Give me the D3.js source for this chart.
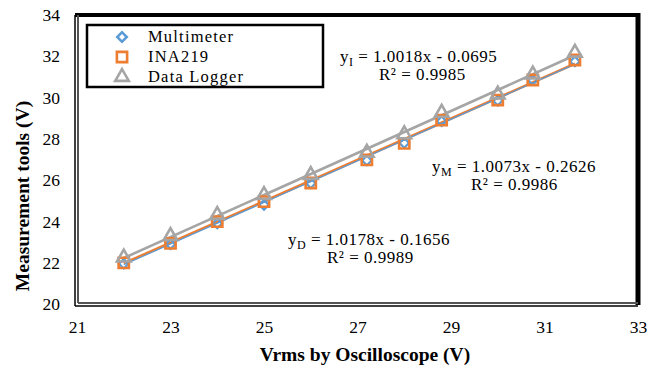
<!DOCTYPE html>
<html>
<head>
<meta charset="utf-8">
<script src="https://cdn.jsdelivr.net/npm/d3@7"></script>
<style>
  body { margin: 0; background: #fff; }
  text { font-family: "Liberation Serif", "Times New Roman", serif; fill: #000; }
</style>
</head>
<body>
<div id="chart"></div>
<script>
// oscilloscope Vrms (x) vs measured values
const vrms = [22, 23, 24, 25, 26, 27.2, 28, 28.8, 30, 30.75, 31.65];
const multimeter = [21.95, 22.9, 23.9, 24.8, 25.85, 26.95, 27.8, 28.85, 29.85, 30.85, 31.75];
const ina219 = [21.99, 22.94, 23.99, 24.96, 25.86, 26.98, 27.78, 28.91, 29.88, 30.85, 31.82];
const dataLogger = [22.3, 23.34, 24.36, 25.33, 26.3, 27.38, 28.27, 29.31, 30.2, 31.17, 32.22];

const seriesNames = ["Multimeter", "INA219", "Data Logger"];
// trendline coefficients as printed on the chart
const slopes = [1.0073, 1.0018, 1.0178];
const intercepts = [-0.2626, -0.0695, -0.1656];

const xTicks = [21, 23, 25, 27, 29, 31, 33];
const yTicks = [20, 22, 24, 26, 28, 30, 32, 34];

////////////////////////////////////////////////////////////////////////////////////

const width = 657, height = 365;
const margin = { left: 77, right: 19, top: 15, bottom: 61 };

const svg = d3.select("#chart").append("svg")
  .attr("width", width)
  .attr("height", height);

const x = d3.scaleLinear().domain([21, 33]).range([margin.left, width - margin.right]);
const y = d3.scaleLinear().domain([20, 34]).range([height - margin.bottom, margin.top]);

const colors = ["#5B9BD5", "#ED7D31", "#A5A5A5"];
const seriesValues = [multimeter, ina219, dataLogger];

// frame: thick top/right, double lines left/bottom
const x0 = x(21), x1 = x(33), y0 = y(20), y1 = y(34);
const frame = svg.append("g");
frame.append("line").attr("x1", x0 - 2).attr("x2", x1 + 2).attr("y1", y1).attr("y2", y1)
  .attr("stroke", "#000").attr("stroke-width", 4);
frame.append("line").attr("x1", x1).attr("x2", x1).attr("y1", y1 - 2).attr("y2", y0 + 1)
  .attr("stroke", "#000").attr("stroke-width", 5);
frame.append("line").attr("x1", x0 - 2).attr("x2", x0 - 2).attr("y1", y1).attr("y2", y0 + 2)
  .attr("stroke", "#000").attr("stroke-width", 1.5);
frame.append("line").attr("x1", x0 + 1).attr("x2", x0 + 1).attr("y1", y1).attr("y2", y0 - 1)
  .attr("stroke", "#555").attr("stroke-width", 2);
frame.append("line").attr("x1", x0 - 2).attr("x2", x1).attr("y1", y0 + 2).attr("y2", y0 + 2)
  .attr("stroke", "#000").attr("stroke-width", 1.5);
frame.append("line").attr("x1", x0 + 1).attr("x2", x1).attr("y1", y0 - 1).attr("y2", y0 - 1)
  .attr("stroke", "#555").attr("stroke-width", 2);

// axes (labels only, no tick marks)
const xAxis = svg.append("g")
  .attr("transform", `translate(0,${y0 + 10})`)
  .call(d3.axisBottom(x).tickValues(xTicks).tickSize(0).tickPadding(7));
const yAxis = svg.append("g")
  .attr("transform", `translate(${x0 - 6},0)`)
  .call(d3.axisLeft(y).tickValues(yTicks).tickSize(0).tickPadding(11));
[xAxis, yAxis].forEach(a => {
  a.select(".domain").remove();
  a.selectAll("text").attr("font-family", "Liberation Serif, serif").attr("font-size", 17.5).attr("fill", "#000");
});

svg.append("text")
  .attr("x", 365).attr("y", 361)
  .attr("text-anchor", "middle")
  .attr("font-size", 19.5).attr("font-weight", "bold")
  .text("Vrms by Oscilloscope (V)");

svg.append("text")
  .attr("transform", "translate(29,196) rotate(-90)")
  .attr("text-anchor", "middle")
  .attr("font-size", 19.5).attr("font-weight", "bold")
  .text("Measurement tools (V)");

////////////////////////////////////////////////////////////////////////////////////

const plot = svg.append("g");
const xFirst = d3.min(vrms), xLast = d3.max(vrms);
const lineWidths = [1.2, 2.6, 2.6];
const drawOrder = [2, 1, 0];

// trendlines
drawOrder.forEach(i => {
  plot.append("line")
    .attr("x1", x(xFirst)).attr("y1", y(slopes[i] * xFirst + intercepts[i]))
    .attr("x2", x(xLast)).attr("y2", y(slopes[i] * xLast + intercepts[i]))
    .attr("stroke", colors[i]).attr("stroke-width", lineWidths[i]);
});

// markers (diamond = rotated square, as in Excel)
const symbols = [d3.symbolSquare, d3.symbolSquare, d3.symbolTriangle];
const symSizes = [45, 105, 80];
const rotations = [45, 0, 0];
const markerPath = i => d3.symbol().type(symbols[i]).size(symSizes[i])();

[0, 1, 2].forEach(i => {
  plot.append("g").selectAll("path")
    .data(vrms.map((v, j) => [v, seriesValues[i][j]]))
    .enter()
    .append("path")
    .attr("d", markerPath(i))
    .attr("transform", d => `translate(${x(d[0])},${y(d[1]) + (i === 2 ? 1 : 0)}) rotate(${rotations[i]})`)
    .attr("fill", "none")
    .attr("stroke", colors[i])
    .attr("stroke-width", i === 0 ? 2.2 : 2.6);
});

// equation labels
const eqs = [
  { name: "M", eq: " = 1.0073x - 0.2626", r2: "R² = 0.9986", x: 432, y: 172 },
  { name: "I", eq: " = 1.0018x - 0.0695", r2: "R² = 0.9985", x: 340, y: 62 },
  { name: "D", eq: " = 1.0178x - 0.1656", r2: "R² = 0.9989", x: 288, y: 245 }
];
eqs.forEach(e => {
  const t = svg.append("text").attr("x", e.x).attr("y", e.y)
    .attr("font-size", 17).attr("letter-spacing", 0.5);
  t.append("tspan").text("y");
  t.append("tspan").attr("font-size", 12).attr("dy", 4).text(e.name);
  t.append("tspan").attr("dy", -4).text(e.eq);
  svg.append("text").attr("x", e.x + 39).attr("y", e.y + 18)
    .attr("font-size", 17).attr("letter-spacing", 0.5).text(e.r2);
});

// legend
const legend = svg.append("g");
legend.append("rect")
  .attr("x", 87).attr("y", 25).attr("width", 236).attr("height", 62)
  .attr("fill", "#fff").attr("stroke", "#000").attr("stroke-width", 2.5);
seriesNames.forEach((name, i) => {
  const ly = 37 + i * 20;
  legend.append("path")
    .attr("d", markerPath(i))
    .attr("transform", `translate(122,${ly}) rotate(${rotations[i]})`)
    .attr("fill", "none").attr("stroke", colors[i]).attr("stroke-width", 2.6);
  legend.append("text")
    .attr("x", 148).attr("y", ly + 5)
    .attr("font-size", 16.5).attr("letter-spacing", 1.2)
    .text(name);
});
</script>
</body>
</html>
